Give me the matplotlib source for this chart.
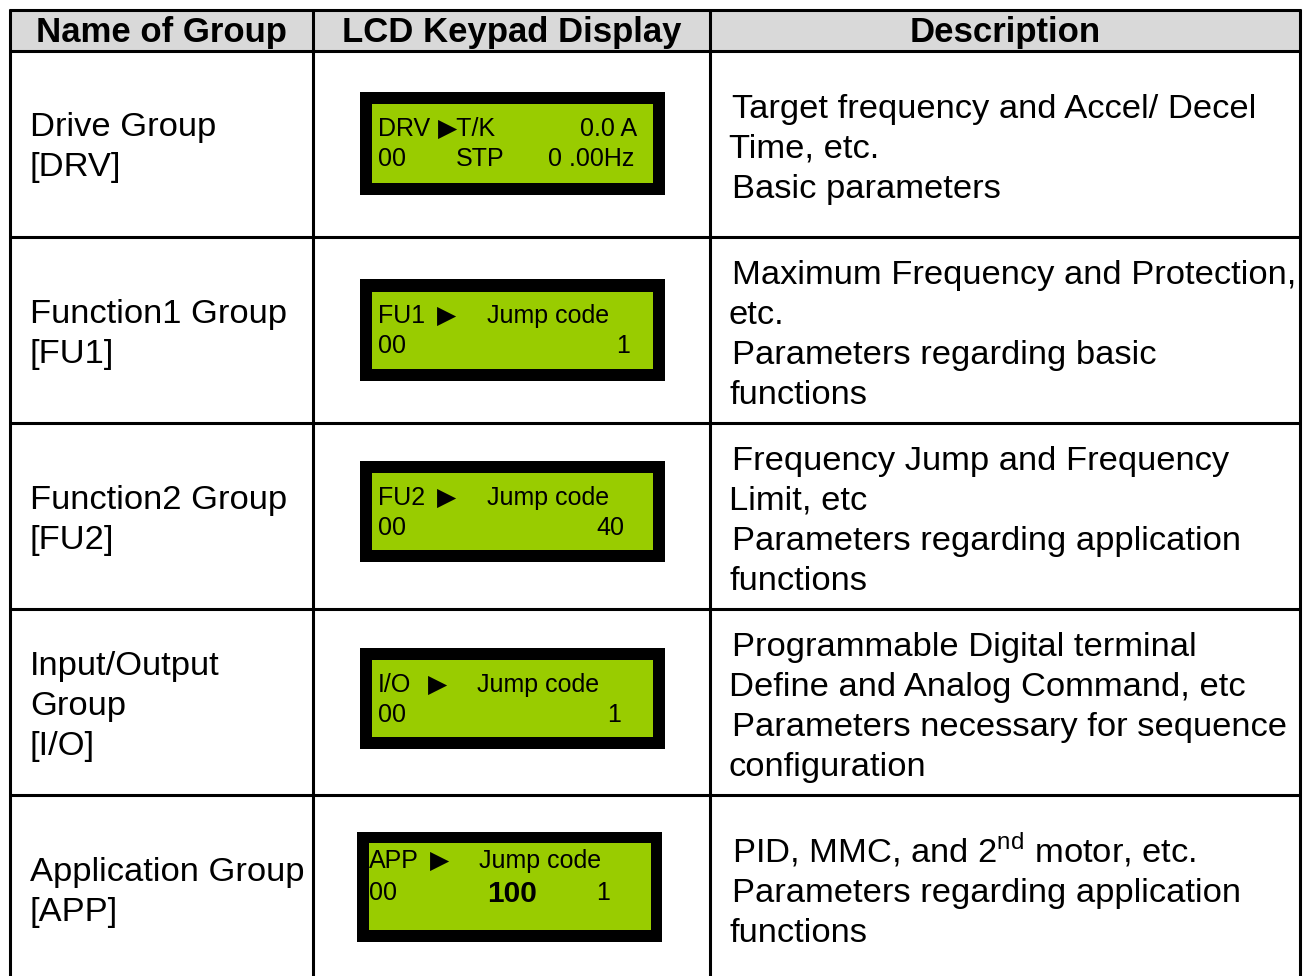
import matplotlib.pyplot as plt
from matplotlib.patches import Rectangle

plt.rcParams['font.family'] = ['Liberation Sans', 'DejaVu Sans']
plt.rcParams['mathtext.fontset'] = 'custom'
plt.rcParams['mathtext.rm'] = 'Liberation Sans'

headers = ["Name of Group", "LCD Keypad Display", "Description"]

groups = [
    ["Drive Group", "[DRV]"],
    ["Function1 Group", "[FU1]"],
    ["Function2 Group", "[FU2]"],
    ["Input/Output", "Group", "[I/O]"],
    ["Application Group", "[APP]"],
]

descriptions = [
    ["Target frequency and Accel/ Decel", "Time, etc.", "Basic parameters"],
    ["Maximum Frequency and Protection,", "etc.", "Parameters regarding basic", "functions"],
    ["Frequency Jump and Frequency", "Limit, etc", "Parameters regarding application", "functions"],
    ["Programmable Digital terminal", "Define and Analog Command, etc",
     "Parameters necessary for sequence", "configuration"],
    [r"PID, MMC, and 2$^{\mathrm{nd}}$ motor, etc.", "Parameters regarding application",
     "functions"],
]
# lines that start slightly further left in the original
desc_indent = [[0, 1, 0], [0, 1, 0, 1], [0, 1, 0, 1], [0, 1, 0, 1], [0, 0, 1]]

lcd_top = [
    ["DRV", "\u25b6T/K", "0.0 A"],
    ["FU1", "\u25b6", "Jump code"],
    ["FU2", "\u25b6", "Jump code"],
    ["I/O", "\u25b6", "Jump code"],
    ["APP", "\u25b6", "Jump code"],
]
lcd_bottom = [
    ["00", "STP", "0 .00Hz"],
    ["00", "", "1"],
    ["00", "", "40"],
    ["00", "", "1"],
    ["00", "100", "1"],
]

# layout (pixels)
W, H = 1311, 976
col_x = [10, 313, 710, 1300]
row_y = [10, 51, 237, 423, 609, 795, 976]
group_mid = [144, 331, 517, 703, 889]
lcd_box = [(360, 92, 305, 103), (360, 279, 305, 102), (360, 461, 305, 101),
           (360, 648, 305, 101), (357, 832, 305, 110)]
lcd_inner = [(372, 104, 281, 79), (372, 292, 281, 77), (372, 473, 281, 77),
             (372, 660, 281, 77), (369, 843, 282, 87)]
lcd_base = [(136, 166), (323, 353), (505, 535), (692, 722), (868, 900)]
lcd_x = [(378, 438, 637, 456, 634), (378, 437, 487, 0, 630), (378, 437, 487, 0, 624),
         (378, 428, 477, 0, 621), (369, 430, 479, 487, 610)]

fig = plt.figure(figsize=(W / 100, H / 100), dpi=100)
ax = fig.add_axes([0, 0, 1, 1])
ax.set_xlim(0, W)
ax.set_ylim(H, 0)
ax.axis('off')

ax.add_patch(Rectangle((col_x[0], row_y[0]), col_x[-1] - col_x[0], row_y[1] - row_y[0],
                       facecolor='#d9d9d9', edgecolor='none'))

lw = 2.2
for x in col_x:
    ax.plot([x, x], [row_y[0] - 1, H], color='black', lw=lw, solid_capstyle='butt')
for y in row_y[:-1]:
    ax.plot([col_x[0] - 1, col_x[-1] + 1], [y, y], color='black', lw=lw, solid_capstyle='butt')

for i, h in enumerate(headers):
    cx = (col_x[i] + col_x[i + 1]) / 2
    ax.text(cx, 42, h, fontsize=25, fontweight='bold', ha='center', va='baseline')

fs = 24.8
lfs = 18
for r in range(5):
    top = row_y[r + 1]

    g = groups[r]
    n = len(g)
    for k, line in enumerate(g):
        y = group_mid[r] + (k - (n - 1) / 2) * 40 + 12
        ax.text(30, y, line, fontsize=fs, ha='left', va='baseline')

    d = descriptions[r]
    first = top + 47 + (4 - len(d)) * 20
    for k, line in enumerate(d):
        x = 732 - 3 * desc_indent[r][k]
        ax.text(x, first + k * 40, line, fontsize=fs, ha='left', va='baseline')

    bx, by, bw, bh = lcd_box[r]
    ax.add_patch(Rectangle((bx, by), bw, bh, facecolor='black', edgecolor='none'))
    ix, iy, iw, ih = lcd_inner[r]
    ax.add_patch(Rectangle((ix, iy), iw, ih, facecolor='#99cc00', edgecolor='none'))

    y1, y2 = lcd_base[r]
    xs = lcd_x[r]
    t = lcd_top[r]
    b = lcd_bottom[r]
    ax.text(xs[0], y1, t[0], fontsize=lfs, va='baseline', ha='left')
    ax.text(xs[1], y1, t[1], fontsize=lfs, va='baseline', ha='left',
            family=['DejaVu Sans'] if t[1] == "\u25b6" else None)
    if r == 0:
        ax.text(xs[2], y1, t[2], fontsize=lfs, va='baseline', ha='right')
        ax.text(xs[3], y2, b[1], fontsize=lfs, va='baseline', ha='left')
    else:
        ax.text(xs[2], y1, t[2], fontsize=lfs, va='baseline', ha='left')
        if b[1]:
            ax.text(xs[3], y2 + 2, b[1], fontsize=21.5, fontweight='bold', va='baseline',
                    ha='left')
    ax.text(xs[0], y2, b[0], fontsize=lfs, va='baseline', ha='left')
    ax.text(xs[4], y2, b[2], fontsize=lfs, va='baseline', ha='right')

fig.savefig('out.png', dpi=100)
